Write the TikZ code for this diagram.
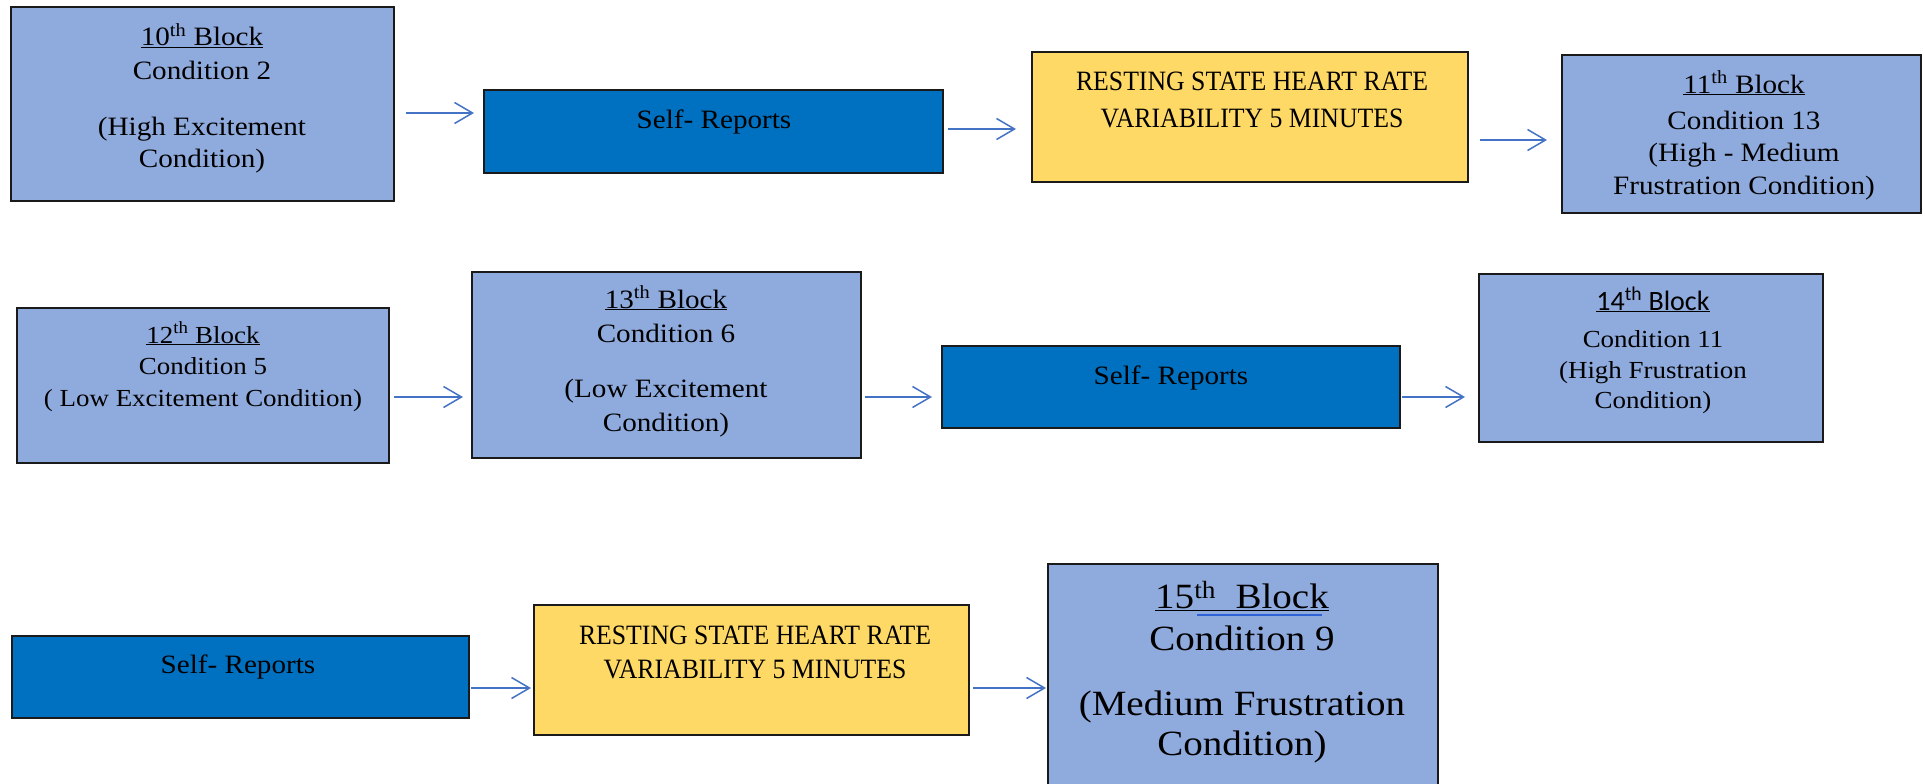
\documentclass[tikz,border=0pt]{standalone}
\usepackage{fontspec}
\setmainfont{Liberation Serif}[FakeStretch=1.1]
\newfontfamily\capsfont{Liberation Serif}[FakeStretch=0.92]
\newfontfamily\blocksans{Carlito}
\usetikzlibrary{arrows.meta,fit}
\definecolor{lightblock}{HTML}{8FAADC}
\definecolor{darkblock}{HTML}{0070C0}
\definecolor{restblock}{HTML}{FFD966}
\definecolor{flowblue}{HTML}{4472C4}
\definecolor{edgegray}{HTML}{1A1A1A}
\definecolor{markblue}{HTML}{2F62D6}

\begin{document}
\begin{tikzpicture}[x=1pt,y=-1pt,
  box/.style={draw=edgegray, line width=2pt, inner sep=0pt},
  condbox/.style={box, fill=lightblock},
  reportbox/.style={box, fill=darkblock},
  restbox/.style={box, fill=restblock},
  line/.style={anchor=base, inner sep=0pt, text=black},
  fmain/.style={font=\fontsize{26.5}{32}\selectfont},
  fsmall/.style={font=\fontsize{24.5}{30}\selectfont},
  fbig/.style={font=\fontsize{35.5}{42}\selectfont},
  fcaps/.style={font=\capsfont\fontsize{28}{34}\selectfont},
  fsans/.style={font=\blocksans\fontsize{28}{34}\selectfont},
  flow/.style={draw=flowblue, line width=1.5pt, -{Straight Barb[length=18pt,width=21pt]}},
]
\useasboundingbox (0,0) rectangle (1925,784);
\fill[white] (0,0) rectangle (1925,784);

% ---------- first row ----------
\node[condbox,   fit={(11,7)(394,201)}]     (b10) {};
\node[reportbox, fit={(484,90)(943,173)}]   (sr1) {};
\node[restbox,   fit={(1032,52)(1468,182)}] (rest1) {};
\node[condbox,   fit={(1562,55)(1921,213)}] (b11) {};

% ---------- second row ----------
\node[condbox,   fit={(17,308)(389,463)}]   (b12) {};
\node[condbox,   fit={(472,272)(861,458)}]  (b13) {};
\node[reportbox, fit={(942,346)(1400,428)}] (sr2) {};
\node[condbox,   fit={(1479,274)(1823,442)}] (b14) {};

% ---------- third row ----------
\node[reportbox, fit={(12,636)(469,718)}]   (sr3) {};
\node[restbox,   fit={(534,605)(969,735)}]  (rest2) {};
\node[condbox,   fit={(1048,564)(1438,800)}] (b15) {};

% ---------- texts ----------
\node[line, fmain] (b10a) at (202,46)  {\underline{10\textsuperscript{th} Block}};
\node[line, fmain] (b10b) at (202,80)  {Condition 2};
\node[line, fmain] (b10c) at (202,135) {(High Excitement};
\node[line, fmain] (b10d) at (202,167) {Condition)};

\node[line, fmain] (sr1a) at (714,128) {Self- Reports};

\node[line, fcaps] (rest1a) at (1252,90)  {RESTING STATE HEART RATE};
\node[line, fcaps] (rest1b) at (1252,127) {VARIABILITY 5 MINUTES};

\node[line, fmain] (b11a) at (1744,93)  {\underline{11\textsuperscript{th} Block}};
\node[line, fmain] (b11b) at (1744,129) {Condition 13};
\node[line, fmain] (b11c) at (1744,161) {(High - Medium};
\node[line, fmain] (b11d) at (1744,194) {Frustration Condition)};

\node[line, fsmall] (b12a) at (203,343) {\underline{12\textsuperscript{th} Block}};
\node[line, fsmall] (b12b) at (203,374) {Condition 5};
\node[line, fsmall] (b12c) at (203,406) {( Low Excitement Condition)};

\node[line, fmain] (b13a) at (666,308) {\underline{13\textsuperscript{th} Block}};
\node[line, fmain] (b13b) at (666,342) {Condition 6};
\node[line, fmain] (b13c) at (666,397) {(Low Excitement};
\node[line, fmain] (b13d) at (666,431) {Condition)};

\node[line, fmain] (sr2a) at (1171,384) {Self- Reports};

\node[line, fsans]  (b14a) at (1653,310) {\underline{14\textsuperscript{th} Block}};
\node[line, fsmall] (b14b) at (1653,347) {Condition 11};
\node[line, fsmall] (b14c) at (1653,378) {(High Frustration};
\node[line, fsmall] (b14d) at (1653,408) {Condition)};

\node[line, fmain] (sr3a) at (238,673) {Self- Reports};

\node[line, fcaps] (rest2a) at (755,644) {RESTING STATE HEART RATE};
\node[line, fcaps] (rest2b) at (755,678) {VARIABILITY 5 MINUTES};

\node[line, fbig] (b15a) at (1242,608) {\underline{15\textsuperscript{th}\ \ Block}};
\node[line, fbig] (b15b) at (1242,650) {Condition 9};
\node[line, fbig] (b15c) at (1242,715) {(Medium Frustration};
\node[line, fbig] (b15d) at (1242,755) {Condition)};
% second, blue underline beneath the word Block
\draw[markblue, line width=2pt] (1197,615) -- (1322,615);

% ---------- connectors ----------
\coordinate (r1a) at (0,113);
\coordinate (r1b) at (0,129);
\coordinate (r1c) at (0,140);
\coordinate (r2)  at (0,397);
\coordinate (r3)  at (0,688);

\draw[flow, shorten <=11pt, shorten >=9pt]  (b10.east |- r1a)   -- (sr1.west |- r1a);
\draw[flow, shorten <=4pt,  shorten >=15pt] (sr1.east |- r1b)   -- (rest1.west |- r1b);
\draw[flow, shorten <=11pt, shorten >=14pt] (rest1.east |- r1c) -- (b11.west |- r1c);

\draw[flow, shorten <=4pt,  shorten >=8pt]  (b12.east |- r2) -- (b13.west |- r2);
\draw[flow, shorten <=3pt,  shorten >=9pt]  (b13.east |- r2) -- (sr2.west |- r2);
\draw[flow, shorten <=1pt,  shorten >=13pt] (sr2.east |- r2) -- (b14.west |- r2);

\draw[flow, shorten <=1pt, shorten >=2pt] (sr3.east |- r3)   -- (rest2.west |- r3);
\draw[flow, shorten <=3pt, shorten >=1pt] (rest2.east |- r3) -- (b15.west |- r3);
\end{tikzpicture}
\end{document}
